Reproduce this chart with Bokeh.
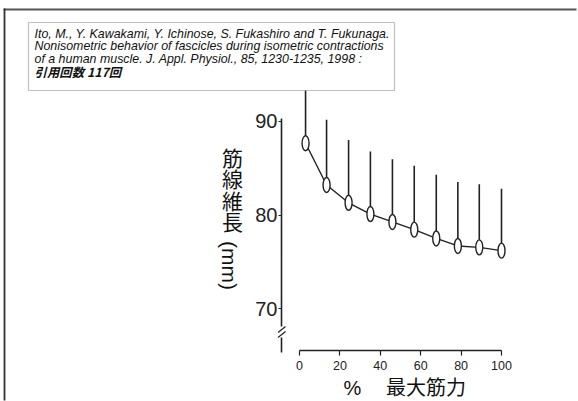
import math
from bokeh.plotting import figure
from bokeh.models import Range1d, LinearAxis, FixedTicker, Label, BoxAnnotation
from bokeh.embed import file_html
from bokeh.resources import INLINE

# ---------------- data ----------------
force_pct = [3, 13.4, 24.3, 35.1, 46.0, 56.8, 67.7, 78.4, 89.0, 100]
fascicle_mm = [87.65, 83.2, 81.3, 80.1, 79.26, 78.44, 77.5, 76.7, 76.55, 76.2]
fascicle_upper = [93.3, 90.15, 88.0, 86.77, 85.95, 85.24, 84.3, 83.53, 83.28, 82.8]
x_ticks = [0, 20, 40, 60, 80, 100]
y_ticks = [70, 80, 90]
citation_lines = [
    "Ito, M., Y. Kawakami, Y. Ichinose, S. Fukashiro and T. Fukunaga.",
    "Nonisometric behavior of fascicles during isometric contractions",
    "of a human muscle. J. Appl. Physiol., 85, 1230-1235, 1998 :",
]
citation_count = "引用回数  117回"
x_title_pct = "%"
x_title = "最大筋力"
y_title_chars = ["筋", "線", "維", "長"]
y_title_unit = "(mm)"

# ---------------- layout (pixel positions on the page) ----------------
W, H = 578, 401
X0_PX, PX_X = 299.0, 2.02      # x=0 position and px per %
Y90_PX, PX_Y = 120.7, 9.38     # y=90 position and px per mm
YAXIS_PX, XAXIS_PX = 281, 350


def dx(r):
    return (r - X0_PX) / PX_X


def dy(r):
    return 90 - (r - Y90_PX) / PX_Y


p = figure(width=W, height=H, output_backend="svg", toolbar_location=None,
           x_range=Range1d(dx(0), dx(W)),
           y_range=Range1d(dy(H), dy(0)),
           x_axis_type=None, y_axis_type=None,
           min_border_left=0, min_border_right=0,
           min_border_top=0, min_border_bottom=0)
p.title.visible = False
p.outline_line_color = None
p.background_fill_color = "white"
p.border_fill_color = "white"

INK = "#222222"

xaxis = LinearAxis(ticker=FixedTicker(ticks=x_ticks), bounds=(0, 100),
                   fixed_location=dy(XAXIS_PX))
yaxis = LinearAxis(ticker=FixedTicker(ticks=y_ticks), bounds=(dy(352), dy(118)),
                   fixed_location=dx(YAXIS_PX))
for ax in (xaxis, yaxis):
    ax.axis_line_color = INK
    ax.axis_line_width = 1.6
    ax.major_tick_line_color = INK
    ax.major_tick_line_width = 1.2
    ax.major_tick_in = 0
    ax.minor_tick_line_color = None
    ax.major_label_text_font = "Liberation Sans"
    ax.major_label_text_color = INK
xaxis.major_tick_out = 5
xaxis.major_label_text_font_size = "12.5px"
xaxis.major_label_standoff = 5
yaxis.major_tick_out = 3
yaxis.major_label_text_font_size = "20px"
yaxis.major_label_standoff = 1
p.add_layout(xaxis, "below")
p.add_layout(yaxis, "left")

# ---------------- data marks ----------------
p.segment(x0=force_pct, y0=fascicle_mm, x1=force_pct, y1=fascicle_upper,
          line_color=INK, line_width=1.6)
p.line(force_pct, fascicle_mm, line_color=INK, line_width=1.4)
p.ellipse(x=force_pct, y=fascicle_mm, width=7, height=15,
          width_units="screen", height_units="screen",
          fill_color="white", line_color=INK, line_width=1.4)

# ---------------- decorations ----------------
# outer frame (top and left lines) as thin filled bands
p.add_layout(BoxAnnotation(left=dx(3.1), right=dx(W - 2), top=dy(8.1), bottom=dy(9.9),
                           fill_color="#555555", fill_alpha=1.0, line_color=None))
p.add_layout(BoxAnnotation(left=dx(3.1), right=dx(4.9), top=dy(8.1), bottom=dy(H - 1),
                           fill_color="#333333", fill_alpha=1.0, line_color=None))

# citation box
p.add_layout(BoxAnnotation(left=dx(28), right=dx(394), top=dy(22), bottom=dy(90),
                           fill_color="white", fill_alpha=1.0,
                           line_color="#333333", line_width=1.2))
for i, t in enumerate(citation_lines):
    p.add_layout(Label(x=dx(34), y=dy(33 + 12.6 * i), text=t,
                       text_font="Liberation Sans", text_font_style="italic",
                       text_font_size="12.4px", text_baseline="middle",
                       text_color="#111111"))
p.add_layout(Label(x=dx(34), y=dy(71), text=citation_count,
                   text_font="Noto Sans CJK JP", text_font_style="bold italic",
                   text_font_size="12.4px", text_baseline="middle",
                   text_color="#111111"))

# y axis break: white gap, then two slashes on top
p.add_layout(BoxAnnotation(left=dx(277), right=dx(286), top=dy(326), bottom=dy(337),
                           fill_color="white", fill_alpha=1.0, line_color=None))
slash_x0 = [dx(277.5), dx(277.5)]
slash_y0 = [dy(332), dy(337)]
slash_x1 = [dx(285), dx(285)]
slash_y1 = [dy(326), dy(331)]
p.segment(x0=slash_x0, y0=slash_y0, x1=slash_x1, y1=slash_y1,
          line_color=INK, line_width=1.3, level="overlay")

# y title
for i, ch in enumerate(y_title_chars):
    p.add_layout(Label(x=dx(232), y=dy(156 + 21.5 * i), text=ch,
                       text_font="Noto Sans CJK JP", text_font_size="21px",
                       text_align="center", text_baseline="middle",
                       text_color="#111111"))
p.add_layout(Label(x=dx(229), y=dy(265), text=y_title_unit, angle=-math.pi / 2,
                   text_font="Liberation Sans", text_font_size="21px",
                   text_align="center", text_baseline="middle",
                   text_color="#111111"))

# x title
p.add_layout(Label(x=dx(352), y=dy(387), text=x_title_pct,
                   text_font="Liberation Sans", text_font_size="20px",
                   text_align="center", text_baseline="middle",
                   text_color="#111111"))
p.add_layout(Label(x=dx(425.5), y=dy(386), text=x_title,
                   text_font="Noto Sans CJK JP", text_font_size="20px",
                   text_align="center", text_baseline="middle",
                   text_color="#111111"))

open("out.html", "w").write(file_html(p, INLINE))
